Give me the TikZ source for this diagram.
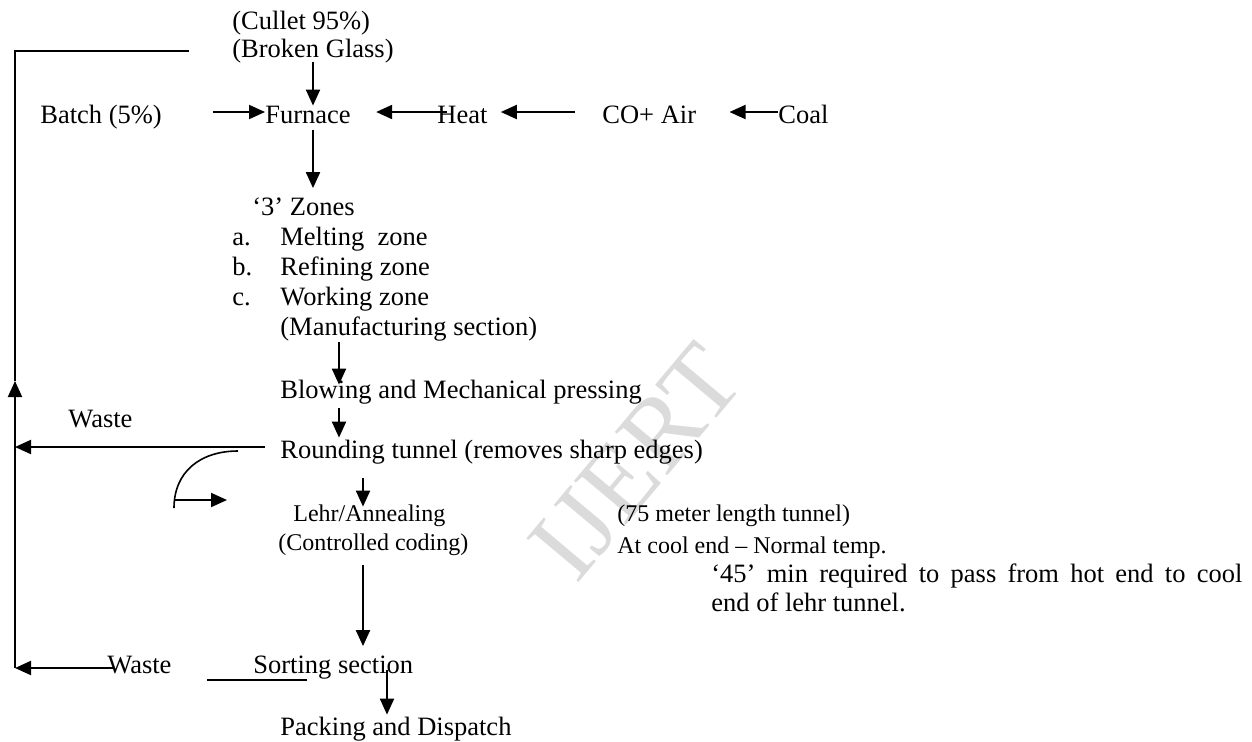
\documentclass[tikz,border=0pt]{standalone}
\usepackage{fontspec}
\setmainfont{Liberation Serif}
\usetikzlibrary{arrows.meta,calc}

\begin{document}
\begin{tikzpicture}[
  x=0.5pt,y=-0.5pt,
  txt/.style={inner sep=0pt, anchor=base west, text height=13.25pt, text depth=2.25pt, font=\fontsize{13.25}{14.5}\selectfont},
  small/.style={txt, text height=12pt, text depth=2pt, font=\fontsize{12}{14}\selectfont},
  para/.style={inner sep=0pt, anchor=base west, text width=265.5pt, align=justify, font=\fontsize{13.25}{14.6}\selectfont},
  arrow/.style={-{Triangle[length=8pt,width=7pt]}, line width=1pt, draw=black},
  rule/.style={line width=1pt, draw=black},
  wmark/.style={inner sep=0pt, text=black!14, font=\fontsize{52}{52}\selectfont, rotate=50}
]
\useasboundingbox (0,0) rectangle (1252,741);
\node[wmark] (ijert) at (636,462) {IJERT};
% feed and fuel
\node[txt] (cullet) at (232,29) {(Cullet 95\%)};
\node[txt] (broken) at (232,57) {(Broken Glass)};
\node[txt] (batch) at (40,123) {Batch (5\%)};
\node[txt] (furnace) at (265,123) {Furnace};
\node[txt] (heat) at (437,123) {Heat};
\node[txt] (coair) at (602,123) {CO+ Air};
\node[txt] (coal) at (778,123) {Coal};
% furnace zones
\node[txt] (zones) at (252,215) {`3' Zones};
\node[txt] (za) at (232,245) {a.};
\node[txt] (melting) at (280,245) {Melting~ zone};
\node[txt] (zb) at (232,275) {b.};
\node[txt] (refining) at (280,275) {Refining zone};
\node[txt] (zc) at (232,305) {c.};
\node[txt] (working) at (280,305) {Working zone};
\node[txt] (manuf) at (280,335) {(Manufacturing section)};
% forming and finishing
\node[txt] (blowing) at (280,398) {Blowing and Mechanical pressing};
\node[txt] (waste) at (68,427) {Waste};
\node[txt] (rounding) at (280,458) {Rounding tunnel (removes sharp edges)};
\node[small] (lehr) at (293,521) {Lehr/Annealing};
\node[small] (control) at (278,550) {(Controlled coding)};
\node[small] (tunnel) at (617,521) {(75 meter length tunnel)};
\node[small] (coolend) at (617,553) {At cool end -- Normal temp.};
\node[para] (passtime) at (711,582) {`45' min required to pass from hot end to cool\linebreak end of lehr tunnel.};
\node[txt] (wastetwo) at (107,673) {Waste};
\node[txt] (sorting) at (253,673) {Sorting section};
\node[txt] (packing) at (280,735) {Packing and Dispatch};
% columns and return loop
\coordinate (colF) at (313,0);
\coordinate (colA) at (339,0);
\coordinate (colL) at (363,0);
\coordinate (colS) at (387,0);
\coordinate (loopB) at (15,668);
\coordinate (loopU) at (15,381);
\coordinate (loopT) at (15,51);
\draw[arrow, shorten <=25.5pt] (batch.east) -- (furnace.west);
\draw[arrow, shorten <=-5pt, shorten >=12.5pt] (heat.west) -- (furnace.east);
\draw[arrow, shorten <=13.5pt, shorten >=6.5pt] (coair.west) -- (heat.east);
\draw[arrow, shorten >=16.5pt] (coal.west) -- (coair.east);
\draw[arrow, shorten >=-4.75pt] (broken.south -| colF) -- (furnace.north -| colF);
\draw[arrow, shorten <=1pt] (furnace.south -| colF) -- (zones.north -| colF);
\draw[arrow, shorten <=1pt, shorten >=-6.75pt] (manuf.south -| colA) -- (blowing.north -| colA);
\draw[arrow, shorten <=2.75pt, shorten >=-3.25pt] (blowing.south -| colA) -- (rounding.north -| colA);
\draw[arrow, shorten <=7.75pt, shorten >=-5pt] (rounding.south -| colL) -- (lehr.north -| colL);
\draw[arrow, shorten <=5.5pt] (control.south -| colL) -- (sorting.north -| colL);
\draw[arrow, shorten <=-3.75pt, shorten >=-3.25pt] (sorting.south -| colS) -- (packing.north -| colS);
\draw[arrow, shorten <=7.5pt] (rounding.west) -- (rounding.west -| loopB);
\draw[arrow, shorten <=-3pt] (loopB -| wastetwo.west) -- (loopB);
\draw[arrow] (loopB) -- (loopU);
\draw[rule] (loopU) -- (loopT) -- ([xshift=-21.5pt]loopT -| broken.west);
\draw[rule] ([shift={(-46,7)}]sorting.base west) -- ++(100,0);
% turning symbol
\draw[rule, line width=0.8pt] (238,451) .. controls (200,451) and (174,472) .. (174,508);
\draw[arrow] (174,500) -- (227,500);
\end{tikzpicture}
\end{document}
